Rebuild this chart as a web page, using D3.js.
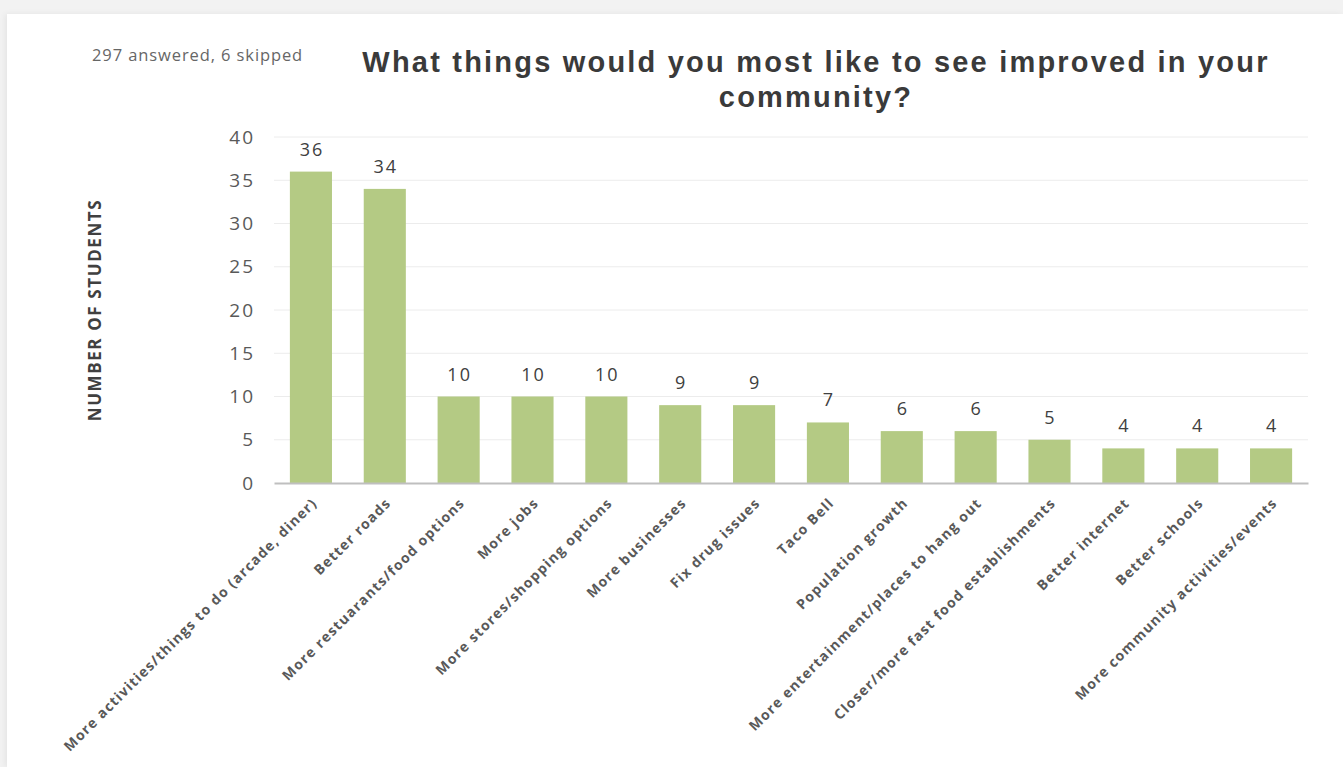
<!DOCTYPE html>
<html>
<head>
	<meta charset="utf-8">
	<title>Community improvements</title>
	<style>
		body { margin: 0; background: #f2f2f2; }
		#card {
			position: absolute; left: 7px; top: 14px; width: 1336px; height: 753px;
			background: #fff; box-shadow: -2px 0 6px rgba(0,0,0,0.06);
		}
		svg { position: absolute; left: 0; top: 0; }
	</style>
</head>
<body>
	<div id="card"></div>
	<script src="https://cdn.jsdelivr.net/npm/d3@7"></script>
	<script>
		var categories = [
			'More activities/things to do (arcade, diner)',
			'Better roads',
			'More restuarants/food options',
			'More jobs',
			'More stores/shopping options',
			'More businesses',
			'Fix drug issues',
			'Taco Bell',
			'Population growth',
			'More entertainment/places to hang out',
			'Closer/more fast food establishments',
			'Better internet',
			'Better schools',
			'More community activities/events'
		];
		var counts = [36, 34, 10, 10, 10, 9, 9, 7, 6, 6, 5, 4, 4, 4];
		var yTicks = [0, 5, 10, 15, 20, 25, 30, 35, 40];

		var W = 1343, H = 767;
		var plot = { left: 274, right: 1308, top: 137, bottom: 483 };

		var svg = d3.select('body').append('svg')
			.attr('width', W).attr('height', H);

		var x = d3.scaleBand()
			.domain(categories)
			.range([plot.left, plot.right])
			.paddingInner(0.43)
			.paddingOuter(0.215);

		var y = d3.scaleLinear()
			.domain([0, 40])
			.range([plot.bottom, plot.top]);

		// gridlines
		svg.append('g')
			.selectAll('line')
			.data(yTicks.filter(function (d) { return d > 0; }))
			.join('line')
			.attr('x1', plot.left).attr('x2', plot.right)
			.attr('y1', function (d) { return y(d); })
			.attr('y2', function (d) { return y(d); })
			.attr('stroke', '#ececec').attr('stroke-width', 1);

		// y axis labels
		var yAxis = svg.append('g')
			.attr('transform', 'translate(' + plot.left + ',0)')
			.call(d3.axisLeft(y).tickValues(yTicks).tickSize(0).tickPadding(19));
		yAxis.select('.domain').remove();
		yAxis.selectAll('text')
			.attr('font-family', 'Open Sans, sans-serif')
			.attr('font-size', 19)
			.attr('letter-spacing', 2)
			.attr('fill', '#595959');

		// bars
		svg.append('g')
			.selectAll('rect')
			.data(counts)
			.join('rect')
			.attr('x', function (d, i) { return x(categories[i]); })
			.attr('y', function (d) { return y(d); })
			.attr('width', x.bandwidth())
			.attr('height', function (d) { return y(0) - y(d); })
			.attr('fill', '#b4ca84');

		// value labels
		svg.append('g')
			.selectAll('text')
			.data(counts)
			.join('text')
			.attr('x', function (d, i) { return x(categories[i]) + x.bandwidth() / 2 + 1; })
			.attr('y', function (d) { return y(d) - 16; })
			.attr('text-anchor', 'middle')
			.attr('font-family', 'Open Sans, sans-serif')
			.attr('font-size', 18)
			.attr('letter-spacing', 2)
			.attr('fill', '#404040')
			.text(function (d) { return d; });

		// x axis
		var xAxis = svg.append('g')
			.attr('transform', 'translate(0,' + plot.bottom + ')')
			.call(d3.axisBottom(x).tickSize(0).tickPadding(0));
		xAxis.select('.domain')
			.attr('stroke', '#bfbfbf').attr('stroke-width', 2);
		xAxis.selectAll('text')
			.attr('font-family', 'Open Sans, sans-serif')
			.attr('font-weight', 'bold')
			.attr('font-size', 14)
			.attr('letter-spacing', 1.2)
			.attr('fill', '#595959')
			.attr('text-anchor', 'end')
			.attr('dy', null)
			.attr('transform', 'translate(7,21) rotate(-45)');

		// y axis title
		svg.append('text')
			.attr('transform', 'translate(101,' + ((plot.top + plot.bottom) / 2) + ') rotate(-90)')
			.attr('text-anchor', 'middle')
			.attr('font-family', 'Open Sans, sans-serif')
			.attr('font-weight', 'bold')
			.attr('font-size', 17)
			.attr('letter-spacing', 1.6)
			.attr('fill', '#404040')
			.text('NUMBER OF STUDENTS');

		// title
		var title = svg.append('text')
			.attr('text-anchor', 'middle')
			.attr('font-family', 'Liberation Sans, Arial, sans-serif')
			.attr('font-weight', 'bold')
			.attr('font-size', 29)
			.attr('letter-spacing', 2.2)
			.attr('fill', '#3a3a3a');
		title.append('tspan').attr('x', 816).attr('y', 72)
			.text('What things would you most like to see improved in your');
		title.append('tspan').attr('x', 816).attr('y', 107)
			.text('community?');

		// answered note
		svg.append('text')
			.attr('x', 92).attr('y', 61)
			.attr('font-family', 'Open Sans, sans-serif')
			.attr('font-size', 16.5)
			.attr('letter-spacing', 0.9)
			.attr('fill', '#666')
			.text('297 answered, 6 skipped');
	</script>
</body>
</html>
